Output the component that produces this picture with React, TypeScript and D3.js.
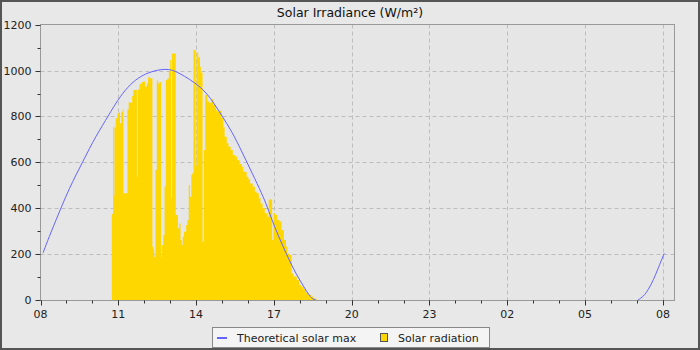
import React from "react";
import * as d3 from "d3";

// ---- data ----
const radiationTimes = [
  "10:45", "10:48", "10:51", "10:52", "10:54", "10:58", "11:01", "11:04", "11:07", "11:10",
  "11:12", "11:21", "11:24", "11:27", "11:32", "11:35", "11:43", "11:45", "11:49", "11:54",
  "11:58", "12:02", "12:06", "12:09", "12:13", "12:19", "12:21", "12:23", "12:26", "12:29",
  "12:32", "12:35", "12:39", "12:41", "12:44", "12:47", "12:50", "12:53", "12:57", "13:00",
  "13:02", "13:04", "13:13", "13:18", "13:21", "13:24", "13:27", "13:29", "13:32", "13:37",
  "13:40", "13:43", "13:46", "13:49", "13:51", "13:54", "13:59", "14:01", "14:05", "14:09",
  "14:11", "14:15", "14:18", "14:21", "14:26", "14:31", "14:36", "14:40", "14:46", "14:49",
  "14:54", "14:59", "15:03", "15:06", "15:11", "15:15", "15:20", "15:25", "15:30", "15:35",
  "15:40", "15:46", "15:49", "15:57", "16:01", "16:05", "16:11", "16:16", "16:20", "16:25",
  "16:29", "16:34", "16:39", "16:45", "16:48", "16:56", "16:59", "17:03", "17:08", "17:13",
  "17:18", "17:23", "17:28", "17:31", "17:35", "17:41", "17:45", "17:53", "17:59", "18:03",
  "18:08", "18:14", "18:20", "18:26", "18:31", "18:37", "18:40",
];
const radiationValues = [
  375, 755, 457, 750, 792, 813, 818, 770, 820, 830,
  465, 830, 863, 860, 889, 915, 537, 918, 941, 950,
  952, 930, 944, 971, 967, 232, 220, 189, 567, 957,
  944, 950, 189, 240, 283, 494, 959, 966, 994, 1046,
  443, 1075, 370, 312, 334, 262, 240, 276, 298, 327,
  349, 501, 450, 545, 552, 1090, 584, 1078, 1058, 1017,
  991, 254, 654, 894, 865, 860, 875, 850, 828, 821,
  825, 792, 753, 712, 683, 668, 654, 632, 625, 610,
  593, 581, 559, 537, 526, 508, 494, 472, 465, 443,
  421, 400, 378, 363, 438, 262, 378, 370, 349, 342,
  305, 262, 233, 203, 196, 116, 102, 87, 65, 58,
  47, 32, 22, 15, 7, 3, 0,
];

const solarMaxTimes = [
  "08:06", "08:20", "08:36", "08:51", "09:07", "09:22", "09:38", "09:53", "10:08", "10:24",
  "10:36", "10:59", "11:22", "11:46", "12:09", "12:32", "12:48", "13:04", "13:22", "13:45",
  "14:09", "14:32", "15:00", "15:23", "15:46", "16:10", "16:33", "16:44", "17:00", "17:23",
  "17:46", "18:09", "18:20", "18:29", "18:37", "19:00", "07:02", "07:15", "07:26", "07:38",
  "07:49", "08:03",
];
const solarMaxValues: (number | null)[] = [
  206, 276, 349, 418, 487, 545, 603, 660, 712, 763,
  800, 873, 930, 969, 991, 1003, 1006, 1004, 988, 962,
  930, 886, 802, 734, 646, 552, 460, 410, 325, 225,
  131, 58, 25, 5, 0, null, 0, 15, 44, 87,
  138, 203,
];

const xTickLabels = ["08", "11", "14", "17", "20", "23", "02", "05", "08"];
const yTickValues = [0, 200, 400, 600, 800, 1000, 1200];
const yMinorValues = [100, 300, 500, 700, 900, 1100];

const legendLabels = ["Theoretical solar max", "Solar radiation"];
const chartTitle = "Solar Irradiance (W/m\u00b2)";

// ---- helpers ----
const base = new Date(2024, 5, 1, 8, 0);
function parseTimes(times: string[]): Date[] {
  let prev = -1;
  return times.map((t) => {
    const [h, m] = t.split(":").map(Number);
    let mins = (h * 60 + m - 480 + 1440) % 1440;
    while (mins < prev) mins += 1440;
    prev = mins;
    return new Date(base.getTime() + mins * 60000);
  });
}

const W = 700;
const H = 350;
const plotL = 40.5;
const plotR = 674.5;
const plotT = 24.5;
const plotB = 300.5;

const FONT = "DejaVu Sans, Verdana, sans-serif";
const BAR_COLOR = "#ffd700";
const LINE_COLOR = "#6464ff";

export default function App() {
  const xEnd = new Date(base.getTime() + (24 * 60 + 28) * 60000);
  const x = d3.scaleTime().domain([base, xEnd]).range([plotL, plotR + 0.5]);
  const y = d3.scaleLinear().domain([0, 1200]).range([plotB - 0.5, plotT + 0.2]);

  const radDates = parseTimes(radiationTimes);
  const radData = radDates.map((d, i) => ({ d, v: radiationValues[i] }));
  const maxDates = parseTimes(solarMaxTimes);
  const maxData = maxDates.map((d, i) => ({ d, v: solarMaxValues[i] }));

  const area = d3
    .area<{ d: Date; v: number }>()
    .x((p) => x(p.d))
    .y0(y(0))
    .y1((p) => y(p.v))
    .curve(d3.curveStepAfter);

  const line = d3
    .line<{ d: Date; v: number | null }>()
    .defined((p) => p.v !== null)
    .x((p) => x(p.d))
    .y((p) => y(p.v as number))
    .curve(d3.curveBasis);

  const majorTicks = xTickLabels.map((_, i) => d3.timeHour.offset(base, 3 * i));
  const minorTicks = d3.range(0, 25).map((i) => d3.timeHour.offset(base, i));

  return (
    <svg
      width={W}
      height={H}
      style={{ position: "absolute", left: 0, top: 0 }}
      fontFamily={FONT}
    >
      <defs>
        <clipPath id="plotClip">
          <rect x={plotL} y={plotT} width={plotR - plotL} height={plotB - plotT} />
        </clipPath>
      </defs>
      <rect x={1} y={1} width={W - 2} height={H - 2} fill="#e8e8e8" stroke="#555" strokeWidth={2} />
      <text x={350} y={17} textAnchor="middle" fontSize={12.5} fill="#111">
        {chartTitle}
      </text>

      <rect x={plotL} y={plotT} width={plotR - plotL} height={plotB - plotT} fill="#e6e6e6" />

      {/* gridlines */}
      <g stroke="#bdbdbd" strokeWidth={1} strokeDasharray="4,3">
        {yTickValues.slice(1, -1).map((v) => (
          <line key={"gy" + v} x1={plotL} x2={plotR} y1={Math.round(y(v)) + 0.5} y2={Math.round(y(v)) + 0.5} />
        ))}
        {majorTicks.slice(1).map((d, i) => (
          <line key={"gx" + i} x1={Math.round(x(d)) + 0.5} x2={Math.round(x(d)) + 0.5} y1={plotT} y2={plotB} />
        ))}
      </g>

      <g clipPath="url(#plotClip)">
        <path d={area(radData) || ""} fill={BAR_COLOR} />
        <path d={line(maxData) || ""} fill="none" stroke={LINE_COLOR} strokeWidth={1} />
      </g>

      <rect x={plotL} y={plotT} width={plotR - plotL} height={plotB - plotT} fill="none" stroke="#999" strokeWidth={1} />

      {/* y axis */}
      <g stroke="#333" strokeWidth={1}>
        {yTickValues.map((v) => (
          <line key={"yt" + v} x1={plotL - 5} x2={plotL} y1={Math.round(y(v)) + 0.5} y2={Math.round(y(v)) + 0.5} />
        ))}
        {yMinorValues.map((v) => (
          <line key={"ym" + v} x1={plotL - 3} x2={plotL} y1={Math.round(y(v)) + 0.5} y2={Math.round(y(v)) + 0.5} />
        ))}
      </g>
      <g fontSize={11} fill="#222" textAnchor="end">
        {yTickValues.map((v) => (
          <text key={"yl" + v} x={plotL - 9} y={y(v) + 4}>
            {v}
          </text>
        ))}
      </g>

      {/* x axis */}
      <g stroke="#333" strokeWidth={1}>
        {minorTicks.map((d, i) => (
          <line key={"xm" + i} x1={Math.round(x(d)) + 0.5} x2={Math.round(x(d)) + 0.5} y1={plotB} y2={plotB + 3} />
        ))}
        {majorTicks.map((d, i) => (
          <line key={"xt" + i} x1={Math.round(x(d)) + 0.5} x2={Math.round(x(d)) + 0.5} y1={plotB} y2={plotB + 5} />
        ))}
      </g>
      <g fontSize={11} fill="#222" textAnchor="middle">
        {majorTicks.map((d, i) => (
          <text key={"xl" + i} x={x(d)} y={plotB + 17}>
            {xTickLabels[i]}
          </text>
        ))}
      </g>

      {/* legend */}
      <rect x={212.5} y={327.5} width={277} height={20} fill="#f4f4f4" stroke="#888" strokeWidth={1} />
      <line x1={217} x2={227} y1={338} y2={338} stroke={LINE_COLOR} strokeWidth={2} />
      <text x={237} y={341.5} fontSize={11} fill="#222">
        {legendLabels[0]}
      </text>
      <rect x={380.5} y={333.5} width={7} height={8} fill={BAR_COLOR} stroke="#555" strokeWidth={1} />
      <text x={398} y={341.5} fontSize={11} fill="#222">
        {legendLabels[1]}
      </text>
    </svg>
  );
}
